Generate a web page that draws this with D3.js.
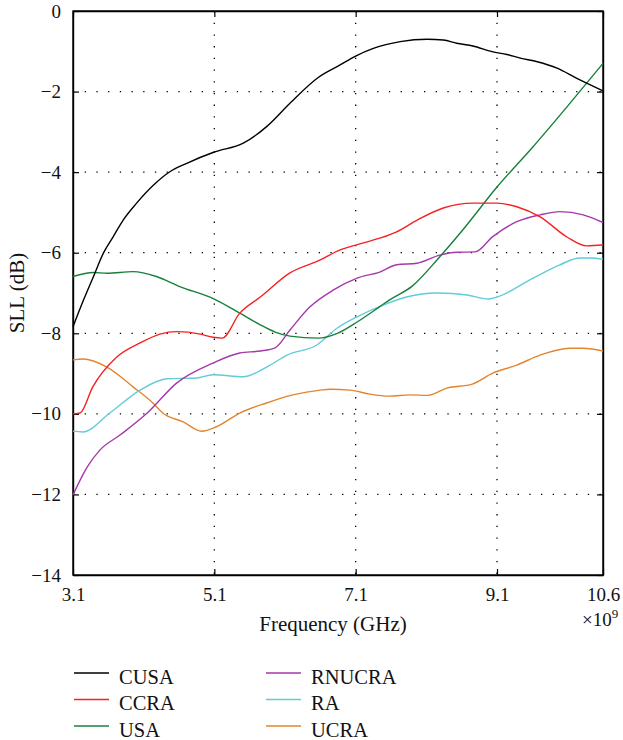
<!DOCTYPE html>
<html>
<head>
<meta charset="utf-8">
<script src="https://cdn.jsdelivr.net/npm/d3@7"></script>
<style>
  body { margin: 0; background: #fff; }
</style>
</head>
<body>
<div id="my_dataviz"></div>
<script>
// data (frequency in GHz, SLL in dB)
var seriesNames = ["CUSA", "CCRA", "USA", "RNUCRA", "RA", "UCRA"];
var seriesColors = ["#000000", "#f52222", "#17803c", "#a43aa8", "#62cbd8", "#e3852e"];

var cusaFreq = [3.1, 3.25, 3.39, 3.53, 3.67, 3.81, 4.0, 4.24, 4.47, 4.71, 5.1, 5.51, 5.84, 6.17, 6.57, 6.88, 7.1, 7.35, 7.73, 8.11, 8.34, 8.53, 8.76, 9.03, 9.24, 9.43, 9.67, 9.95, 10.23, 10.6];
var cusaSll  = [-7.84, -7.17, -6.59, -6.01, -5.6, -5.19, -4.77, -4.32, -3.99, -3.78, -3.5, -3.28, -2.87, -2.29, -1.65, -1.34, -1.12, -0.93, -0.76, -0.7, -0.72, -0.8, -0.87, -1.01, -1.08, -1.17, -1.26, -1.42, -1.67, -1.98];

var ccraFreq = [3.1, 3.2, 3.38, 3.72, 4.05, 4.33, 4.57, 4.9, 5.08, 5.21, 5.46, 5.75, 6.17, 6.6, 6.88, 7.1, 7.44, 7.68, 7.97, 8.34, 8.76, 9.1, 9.38, 9.71, 10.09, 10.37, 10.6];
var ccraSll  = [-10.0, -9.98, -9.33, -8.59, -8.24, -8.02, -7.96, -8.02, -8.1, -8.12, -7.5, -7.1, -6.5, -6.18, -5.93, -5.81, -5.64, -5.48, -5.19, -4.89, -4.77, -4.77, -4.86, -5.11, -5.61, -5.83, -5.81];

var usaFreq = [3.1, 3.39, 3.58, 3.95, 4.28, 4.61, 5.1, 5.46, 5.75, 5.96, 6.17, 6.57, 6.84, 7.12, 7.44, 7.58, 7.9, 8.29, 8.65, 9.1, 9.61, 10.09, 10.6];
var usaSll  = [-6.59, -6.49, -6.51, -6.47, -6.59, -6.84, -7.15, -7.5, -7.79, -7.97, -8.07, -8.12, -8.0, -7.72, -7.34, -7.17, -6.83, -6.1, -5.36, -4.37, -3.37, -2.38, -1.3];

var rnucraFreq = [3.1, 3.3, 3.48, 3.77, 4.15, 4.57, 5.08, 5.46, 5.75, 5.96, 6.17, 6.45, 6.78, 7.12, 7.44, 7.68, 7.97, 8.29, 8.53, 8.79, 9.04, 9.38, 9.71, 9.99, 10.32, 10.6];
var rnucraSll  = [-12.01, -11.32, -10.9, -10.52, -9.98, -9.23, -8.74, -8.49, -8.44, -8.36, -7.92, -7.35, -6.93, -6.63, -6.48, -6.3, -6.26, -6.06, -5.99, -5.98, -5.6, -5.23, -5.06, -4.98, -5.06, -5.25];

var raFreq = [3.1, 3.24, 3.62, 4.05, 4.43, 4.85, 5.08, 5.51, 5.84, 6.13, 6.55, 6.84, 7.12, 7.49, 7.82, 8.25, 8.68, 8.97, 9.1, 9.61, 9.99, 10.27, 10.42, 10.6];
var raSll  = [-10.43, -10.45, -9.98, -9.41, -9.13, -9.11, -9.03, -9.08, -8.84, -8.54, -8.29, -7.87, -7.59, -7.3, -7.1, -7.0, -7.05, -7.15, -7.1, -6.63, -6.3, -6.13, -6.13, -6.16];

var ucraFreq = [3.1, 3.24, 3.58, 3.95, 4.23, 4.37, 4.66, 4.92, 5.13, 5.46, 5.84, 6.21, 6.6, 6.74, 7.02, 7.3, 7.58, 7.87, 8.12, 8.39, 8.75, 9.04, 9.38, 9.71, 10.13, 10.32, 10.6];
var ucraSll  = [-8.66, -8.64, -8.84, -9.33, -9.73, -9.98, -10.2, -10.43, -10.32, -9.98, -9.73, -9.53, -9.41, -9.39, -9.41, -9.51, -9.56, -9.53, -9.54, -9.36, -9.26, -8.99, -8.79, -8.54, -8.37, -8.37, -8.44];

var xTicks = [3.1, 5.1, 7.1, 9.1, 10.6];
var yTicks = [0, -2, -4, -6, -8, -10, -12, -14];

var serif = "'Liberation Serif', 'Times New Roman', serif";

// set the dimensions and margins of the graph
var margin = {top: 11, right: 20, bottom: 165, left: 73},
width = 530,
height = 564;

var root = d3.select("#my_dataviz")
  .append("svg")
  .attr("width", 623)
  .attr("height", 740)
  .style("font-family", serif);

var svg = root.append("g")
  .attr("transform", "translate(" + margin.left + "," + margin.top + ")");

var x = d3.scaleLinear().domain([3.1, 10.6]).range([0, width]);
var y = d3.scaleLinear().domain([-14, 0]).range([height, 0]);

// dotted grid
svg.append("g")
  .selectAll("line")
  .data(xTicks.filter(function(d) { return d > 3.1 && d < 10.6; }))
  .enter()
  .append("line")
  .attr("x1", function(d) { return x(d); })
  .attr("x2", function(d) { return x(d); })
  .attr("y1", 0)
  .attr("y2", height)
  .attr("stroke", "#000")
  .attr("stroke-width", 1.3)
  .attr("stroke-dasharray", "1.3,10.4");

svg.append("g")
  .selectAll("line")
  .data(yTicks.filter(function(d) { return d < 0 && d > -14; }))
  .enter()
  .append("line")
  .attr("x1", 0)
  .attr("x2", width)
  .attr("y1", function(d) { return y(d); })
  .attr("y2", function(d) { return y(d); })
  .attr("stroke", "#000")
  .attr("stroke-width", 1.3)
  .attr("stroke-dasharray", "1.3,10.4");

// axes with inward ticks on all four sides
svg.append("g")
  .attr("transform", "translate(0," + height + ")")
  .call(d3.axisBottom(x).tickValues(xTicks).tickSizeInner(-6).tickSizeOuter(0).tickPadding(13).tickFormat(d3.format(".1f")));
svg.append("g")
  .call(d3.axisLeft(y).tickValues(yTicks).tickSizeInner(-6).tickSizeOuter(0).tickPadding(12).tickFormat(d3.format("")));
svg.append("g")
  .call(d3.axisTop(x).tickValues(xTicks).tickSizeInner(-6).tickSizeOuter(0).tickFormat(""));
svg.append("g")
  .attr("transform", "translate(" + width + ",0)")
  .call(d3.axisRight(y).tickValues(yTicks).tickSizeInner(-6).tickSizeOuter(0).tickFormat(""));

svg.selectAll("g").attr("font-family", serif);
svg.selectAll(".tick text")
  .style("font-family", serif)
  .style("font-size", "19px")
  .attr("fill", "#111");
svg.selectAll(".domain").attr("stroke", "#000").attr("stroke-width", 1.4);
svg.selectAll(".tick line").attr("stroke", "#000").attr("stroke-width", 1.2);

// frame
svg.append("rect")
  .attr("x", 0).attr("y", 0)
  .attr("width", width).attr("height", height)
  .attr("fill", "none")
  .attr("stroke", "#000")
  .attr("stroke-width", 1.4);

// lines
var allFreq = [cusaFreq, ccraFreq, usaFreq, rnucraFreq, raFreq, ucraFreq];
var allSll = [cusaSll, ccraSll, usaSll, rnucraSll, raSll, ucraSll];

var line = d3.line()
  .x(function(d) { return x(d[0]); })
  .y(function(d) { return y(d[1]); })
  .curve(d3.curveMonotoneX);

// draw back to front so black sits on top
[5, 4, 3, 2, 1, 0].forEach(function(i) {
  svg.append("path")
    .datum(d3.zip(allFreq[i], allSll[i]))
    .attr("fill", "none")
    .attr("stroke", seriesColors[i])
    .attr("stroke-width", 1.4)
    .attr("d", line);
});

// axis titles
svg.append("text")
  .attr("transform", "rotate(-90)")
  .attr("x", 0 - (height / 2))
  .attr("y", 24 - margin.left)
  .style("text-anchor", "middle")
  .style("font-family", serif)
  .style("font-size", "21px")
  .attr("fill", "#111")
  .text("SLL (dB)");

svg.append("text")
  .attr("x", 333 - margin.left)
  .attr("y", 631 - margin.top)
  .style("text-anchor", "middle")
  .style("font-family", serif)
  .style("font-size", "21px")
  .attr("fill", "#111")
  .text("Frequency (GHz)");

var expo = svg.append("text")
  .attr("x", 582 - margin.left)
  .attr("y", 626 - margin.top)
  .style("font-family", serif)
  .style("font-size", "19px")
  .attr("fill", "#111");
expo.append("tspan").text("×10");
expo.append("tspan").attr("dy", -8).style("font-size", "13px").text("9");

// legend
var legend = root.append("g");
seriesNames.forEach(function(name, i) {
  var col = Math.floor(i / 3), row = i % 3;
  var lx = col === 0 ? 74 : 266;
  var ly = 673 + row * 26.5;
  legend.append("line")
    .attr("x1", lx).attr("x2", lx + 35)
    .attr("y1", ly).attr("y2", ly)
    .attr("stroke", seriesColors[i])
    .attr("stroke-width", 1.5);
  legend.append("text")
    .attr("x", lx + 45)
    .attr("y", ly + 10.5)
    .style("font-family", serif)
    .style("font-size", "20.5px")
    .attr("fill", "#111")
    .text(name);
});
</script>
</body>
</html>
